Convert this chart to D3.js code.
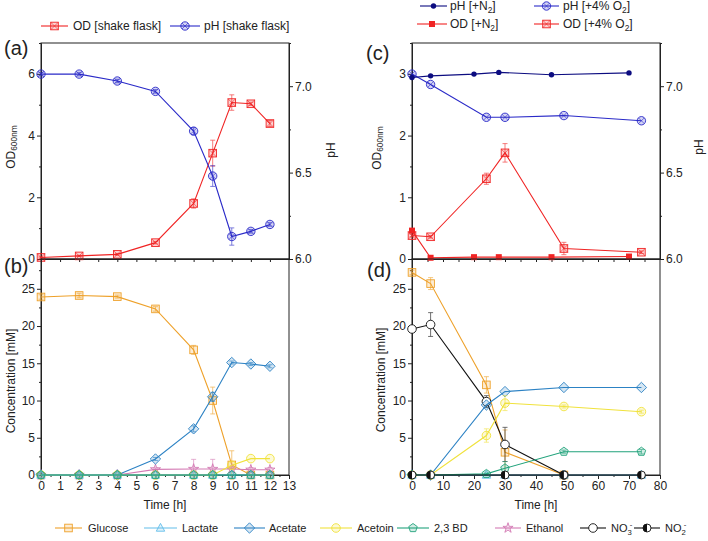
<!DOCTYPE html>
<html>
<head>
<meta charset="utf-8">
<script src="https://cdn.jsdelivr.net/npm/d3@7"></script>
<style>
  body { margin: 0; background: #fff; }
  text { font-family: "Liberation Sans", Arial, sans-serif; fill: #222; }
</style>
</head>
<body>
<svg id="chart" width="708" height="541"></svg>
<script>
// ---- data ----
// (a) shake flask
const timeA = [0, 2, 4, 6, 8, 9, 10, 11, 12];
const odA = [0.05, 0.1, 0.15, 0.53, 1.8, 3.43, 5.07, 5.03, 4.39];
const odAErr = [0.02, 0.02, 0.03, 0.04, 0.15, 0.42, 0.25, 0.05, 0.1];
const phA = [7.07, 7.07, 7.03, 6.97, 6.74, 6.48, 6.13, 6.16, 6.2];
const phAErr = [0.01, 0.01, 0.01, 0.01, 0.02, 0.06, 0.05, 0.01, 0.01];

// (b) metabolites, shake flask
const glucoseB = [23.9, 24.1, 23.95, 22.3, 16.8, 10.0, 1.35, 0, 0];
const glucoseBErr = [0.3, 0.3, 0.2, 0.3, 0.6, 1.8, 1.9, 0, 0];
const lactateB = [0, 0, 0, 0, 0, 0, 0, 0, 0];
const acetateB = [0, 0, 0, 2.15, 6.2, 10.5, 15.1, 14.9, 14.6];
const acetateBErr = [0, 0, 0, 0.2, 0.4, 0.6, 0.2, 0.2, 0.2];
const acetoinB = [0, 0, 0, 0, 0, 0, 1.3, 2.2, 2.2];
const bdB = [0, 0, 0, 0, 0, 0, 0, 0, 0];
const ethanolB = [0, 0, 0, 0.75, 0.8, 0.8, 0.8, 0.7, 0.7];
const ethanolBErr = [0, 0, 0, 0.2, 1.3, 1.3, 0.3, 0.3, 0.3];

// (c) bioreactor
const timeN2 = [0, 6, 20, 28, 45, 70];
const phN2 = [7.05, 7.06, 7.07, 7.08, 7.066, 7.077];
const odN2 = [0.46, 0.02, 0.03, 0.03, 0.03, 0.04];
const timeO2 = [0, 6, 24, 30, 49, 74];
const phO2 = [7.07, 7.01, 6.82, 6.82, 6.83, 6.8];
const odO2 = [0.38, 0.36, 1.3, 1.72, 0.17, 0.11];
const odO2Err = [0.02, 0.02, 0.09, 0.15, 0.1, 0.02];

// (d) metabolites, +4% O2
const timeD = [0, 6, 24, 30, 49, 74];
const glucoseD = [27.2, 25.7, 12.1, 3.05, 0];
const glucoseDErr = [0.3, 0.8, 1.1, 3.0, 0];
const no3D = [19.6, 20.2, 9.85, 4.1, 0];
const no3DErr = [0.3, 1.6, 0.8, 2.3, 0];
const acetateD = [0, 0, 9.4, 11.2, 11.75, 11.75];
const acetoinD = [0, 0, 5.3, 9.65, 9.2, 8.5];
const acetoinDErr = [0, 0, 0.9, 1.0, 0.2, 0.2];
const bdD = [0, 0, 0.15, 0.9, 3.13, 3.13];
const bdDErr = [0, 0, 0.1, 0.9, 0.2, 0.3];
const lactateD = [0, 0, 0, 0, 0, 0];
const timeNO2 = [0, 6, 30, 49, 74];
const no2D = [0, 0, 0, 0, 0];

const svg = d3.select("#chart");
const FONT = "Liberation Sans, Arial, sans-serif";
const FS = 12;

// scales
const xA = d3.scaleLinear().domain([0, 13]).range([41, 289]);
const yODa = d3.scaleLinear().domain([0, 7]).range([259, 43]);
const yPHa = d3.scaleLinear().domain([6, 7.25]).range([259, 43]);
const yB = d3.scaleLinear().domain([0, 29]).range([475, 259]);
const xC = d3.scaleLinear().domain([0, 80]).range([412, 660]);
const yODc = d3.scaleLinear().domain([0, 3.5]).range([259, 43]);
const yPHc = d3.scaleLinear().domain([6, 7.25]).range([259, 43]);
const yD = d3.scaleLinear().domain([0, 29]).range([475, 259]);

// colours
const RED = "#f02424", BLUE = "#2a2ac8", NAVY = "#0c0c80";
const ORANGE = "#eea12a", LBLUE = "#62bdea", ABLUE = "#2c82c4",
  YELLOW = "#f0e23c", GREEN = "#22a37c", PINK = "#d47ab4", BLACK = "#111";

function addAxis(gen, tx, ty, vals, size, labelled, fmt) {
  gen.tickValues(vals).tickSize(size).tickSizeOuter(0).tickPadding(2);
  if (fmt) gen.tickFormat(fmt);
  const g = svg.append("g").attr("transform", `translate(${tx},${ty})`).call(gen);
  if (!labelled) g.selectAll("text").remove();
  g.attr("font-size", FS).attr("font-family", FONT);
  g.selectAll("text").attr("fill", "#222");
  g.select(".domain").attr("stroke", "#222");
  g.selectAll("line").attr("stroke", "#222");
  return g;
}

function frame(x0, y0, x1, y1) {
  svg.append("rect").attr("x", x0).attr("y", y0).attr("width", x1 - x0).attr("height", y1 - y0)
    .attr("fill", "none").attr("stroke", "#222").attr("stroke-width", 1);
}

function marker(parent, shape, cx, cy, c) {
  const g = parent.append("g").attr("transform", `translate(${cx},${cy})`)
    .attr("stroke-width", 0.9);
  const fo = 0.2;
  if (shape === "square") {
    g.append("rect").attr("x", -3.8).attr("y", -3.8).attr("width", 7.6).attr("height", 7.6)
      .attr("fill", c).attr("fill-opacity", fo).attr("stroke", c);
  } else if (shape === "sqx") {
    g.append("rect").attr("x", -3.8).attr("y", -3.8).attr("width", 7.6).attr("height", 7.6)
      .attr("fill", c).attr("fill-opacity", 0.2).attr("stroke", c);
    g.append("path").attr("d", "M-3.8,-3.8L3.8,3.8M3.8,-3.8L-3.8,3.8").attr("stroke", c).attr("stroke-width", 0.6);
  } else if (shape === "circx") {
    g.append("circle").attr("r", 4.2).attr("fill", c).attr("fill-opacity", 0.2).attr("stroke", c);
    g.append("path").attr("d", "M-3,-3L3,3M3,-3L-3,3").attr("stroke", c).attr("stroke-width", 0.6);
  } else if (shape === "dot") {
    g.append("circle").attr("r", 2.7).attr("fill", c).attr("stroke", "none");
  } else if (shape === "fsq") {
    g.append("rect").attr("x", -3).attr("y", -3).attr("width", 6).attr("height", 6).attr("fill", c).attr("stroke", "none");
  } else if (shape === "diamond") {
    g.append("path").attr("d", "M0,-5.2L5.2,0L0,5.2L-5.2,0Z")
      .attr("fill", c).attr("fill-opacity", fo).attr("stroke", c);
  } else if (shape === "triangle") {
    g.append("path").attr("d", "M0,-4.6L4.2,3.2L-4.2,3.2Z")
      .attr("fill", c).attr("fill-opacity", fo).attr("stroke", c);
  } else if (shape === "circle") {
    g.append("circle").attr("r", 4.3).attr("fill", c).attr("fill-opacity", fo).attr("stroke", c);
  } else if (shape === "pentagon") {
    const pts = d3.range(5).map(i => {
      const a = -Math.PI / 2 + i * 2 * Math.PI / 5;
      return [4.5 * Math.cos(a), 4.5 * Math.sin(a)];
    });
    g.append("path").attr("d", "M" + pts.join("L") + "Z")
      .attr("fill", c).attr("fill-opacity", fo).attr("stroke", c);
  } else if (shape === "star") {
    g.append("path").attr("d", d3.symbol(d3.symbolStar, 32)())
      .attr("fill", c).attr("fill-opacity", fo).attr("stroke", c);
  } else if (shape === "ocircle") {
    g.append("circle").attr("r", 4.3).attr("fill", "#fff").attr("stroke", c);
  } else if (shape === "half") {
    g.append("circle").attr("r", 4).attr("fill", "#fff").attr("stroke", c);
    g.append("path").attr("d", "M0,-4A4,4 0 0,0 0,4Z").attr("fill", c);
  }
}

function series(xs, ys, times, vals, errs, color, shape) {
  const pts = vals.map((v, i) => ({ t: times[i], v: v, e: errs ? errs[i] : 0 }));
  svg.append("path").datum(pts)
    .attr("d", d3.line().x(d => xs(d.t)).y(d => ys(d.v)))
    .attr("fill", "none").attr("stroke", color).attr("stroke-width", 1.1);
  const eb = svg.append("g").attr("stroke", color).attr("stroke-width", 0.8).attr("opacity", 0.75);
  pts.filter(d => d.e > 0).forEach(d => {
    const x = xs(d.t), y0 = ys(d.v - d.e), y1 = ys(d.v + d.e);
    eb.append("line").attr("x1", x).attr("x2", x).attr("y1", y0).attr("y2", y1);
    eb.append("line").attr("x1", x - 2.5).attr("x2", x + 2.5).attr("y1", y0).attr("y2", y0);
    eb.append("line").attr("x1", x - 2.5).attr("x2", x + 2.5).attr("y1", y1).attr("y2", y1);
  });
  pts.forEach(d => marker(svg, shape, xs(d.t), ys(d.v), color));
}

function legendItem(x0, x1, tx, y, color, shape, label, fs) {
  svg.append("line").attr("x1", x0).attr("x2", x1).attr("y1", y).attr("y2", y)
    .attr("stroke", color).attr("stroke-width", 1.1);
  marker(svg, shape, (x0 + x1) / 2, y, color);
  const t = svg.append("text").attr("x", tx).attr("y", y + 4.2).attr("font-size", fs || FS);
  label(t);
}

function plain(s) { return t => t.text(s); }
function withSub(pre, sub, post, sup) {
  return t => {
    t.append("tspan").text(pre);
    t.append("tspan").attr("font-size", "0.7em").attr("dy", 3).text(sub);
    if (sup) t.append("tspan").attr("font-size", "0.7em").attr("dy", -8).attr("dx", -2).text(sup);
    if (post) t.append("tspan").attr("dy", sup ? 5 : -3).text(post);
  };
}

function yTitle(x, y, build) {
  const t = svg.append("text").attr("transform", `translate(${x},${y}) rotate(-90)`)
    .attr("text-anchor", "middle").attr("dominant-baseline", "central").attr("font-size", FS);
  build(t);
}

// ---- panel (a) ----
addAxis(d3.axisLeft(yODa), 41, 0, [1, 3, 5, 7], 2, false);
addAxis(d3.axisLeft(yODa), 41, 0, [0, 2, 4, 6], 4, true, d3.format("d"));
addAxis(d3.axisRight(yPHa), 289, 0, [6.25, 6.75, 7.25], 2, false);
addAxis(d3.axisRight(yPHa), 289, 0, [6, 6.5, 7], 4, true, d3.format(".1f"));
addAxis(d3.axisBottom(xA), 0, 259, d3.range(1, 13), 3, false);
frame(41, 43, 289, 259);
series(xA, yODa, timeA, odA, odAErr, RED, "sqx");
series(xA, yPHa, timeA, phA, phAErr, BLUE, "circx");

// ---- panel (b) ----
addAxis(d3.axisLeft(yB), 41, 0, [2.5, 7.5, 12.5, 17.5, 22.5, 27.5], 2, false);
addAxis(d3.axisLeft(yB), 41, 0, [0, 5, 10, 15, 20, 25], 4, true, d3.format("d"));
addAxis(d3.axisBottom(xA), 0, 475, d3.range(0.5, 13, 1), 2, false);
addAxis(d3.axisBottom(xA), 0, 475, d3.range(0, 14), 4, true, d3.format("d"));
frame(41, 259, 289, 475);
series(xA, yB, timeA, glucoseB, glucoseBErr, ORANGE, "square");
series(xA, yB, timeA, ethanolB, ethanolBErr, PINK, "star");
series(xA, yB, timeA, acetateB, acetateBErr, ABLUE, "diamond");
series(xA, yB, timeA, acetoinB, null, YELLOW, "circle");
series(xA, yB, timeA, lactateB, null, LBLUE, "triangle");
series(xA, yB, timeA, bdB, null, GREEN, "pentagon");

// ---- panel (c) ----
addAxis(d3.axisLeft(yODc), 412, 0, [0.5, 1.5, 2.5, 3.5], 2, false);
addAxis(d3.axisLeft(yODc), 412, 0, [0, 1, 2, 3], 4, true, d3.format("d"));
addAxis(d3.axisRight(yPHc), 660, 0, [6.25, 6.75, 7.25], 2, false);
addAxis(d3.axisRight(yPHc), 660, 0, [6, 6.5, 7], 4, true, d3.format(".1f"));
addAxis(d3.axisBottom(xC), 0, 259, d3.range(5, 80, 5), 3, false);
frame(412, 43, 660, 259);
series(xC, yODc, timeO2, odO2, odO2Err, RED, "sqx");
series(xC, yODc, timeN2, odN2, null, RED, "fsq");
series(xC, yPHc, timeO2, phO2, null, BLUE, "circx");
series(xC, yPHc, timeN2, phN2, null, NAVY, "dot");

// ---- panel (d) ----
addAxis(d3.axisLeft(yD), 412, 0, [2.5, 7.5, 12.5, 17.5, 22.5, 27.5], 2, false);
addAxis(d3.axisLeft(yD), 412, 0, [0, 5, 10, 15, 20, 25], 4, true, d3.format("d"));
addAxis(d3.axisBottom(xC), 0, 475, d3.range(5, 80, 10), 2, false);
addAxis(d3.axisBottom(xC), 0, 475, d3.range(0, 81, 10), 4, true, d3.format("d"));
frame(412, 259, 660, 475);
series(xC, yD, timeD, glucoseD, glucoseDErr, ORANGE, "square");
series(xC, yD, timeD, no3D, no3DErr, BLACK, "ocircle");
series(xC, yD, timeD, acetateD, null, ABLUE, "diamond");
series(xC, yD, timeD, acetoinD, acetoinDErr, YELLOW, "circle");
series(xC, yD, timeD, lactateD, null, LBLUE, "triangle");
series(xC, yD, timeD, bdD, bdDErr, GREEN, "pentagon");
series(xC, yD, timeNO2, no2D, null, BLACK, "half");

// ---- titles & labels ----
yTitle(11, 147, withSub("OD", "600nm", ""));
yTitle(331, 150, plain("pH"));
yTitle(11, 381, plain("Concentration [mM]"));
yTitle(377, 148, withSub("OD", "600nm", ""));
yTitle(699, 147, plain("pH"));
yTitle(381, 380, plain("Concentration [mM]"));

svg.append("text").attr("x", 165).attr("y", 509).attr("text-anchor", "middle").attr("font-size", FS).text("Time [h]");
svg.append("text").attr("x", 536).attr("y", 509).attr("text-anchor", "middle").attr("font-size", FS).text("Time [h]");

[["(a)", 4, 55], ["(b)", 4, 273], ["(c)", 366, 60], ["(d)", 367, 277]].forEach(([s, x, y]) =>
  svg.append("text").attr("x", x).attr("y", y).attr("font-size", 20).text(s));

// ---- legends ----
legendItem(41, 68, 73, 26, RED, "sqx", plain("OD [shake flask]"));
legendItem(170, 200, 204, 26, BLUE, "circx", plain("pH [shake flask]"));

legendItem(420, 447, 450, 6, NAVY, "dot", withSub("pH [+N", "2", "]"));
legendItem(534, 559, 563, 6, BLUE, "circx", withSub("pH  [+4% O", "2", "]"));
legendItem(417, 447, 450, 24, RED, "fsq", withSub("OD [+N", "2", "]"));
legendItem(534, 559, 563, 24, RED, "sqx", withSub("OD [+4% O", "2", "]"));

const legY = 528, LFS = 11;
legendItem(55, 82, 88, legY, ORANGE, "square", plain("Glucose"), LFS);
legendItem(144, 177, 182, legY, LBLUE, "triangle", plain("Lactate"), LFS);
legendItem(234, 265, 269, legY, ABLUE, "diamond", plain("Acetate"), LFS);
legendItem(320, 352, 357, legY, YELLOW, "circle", plain("Acetoin"), LFS);
legendItem(397, 429, 434, legY, GREEN, "pentagon", plain("2,3 BD"), LFS);
legendItem(495, 521, 526, legY, PINK, "star", plain("Ethanol"), LFS);
legendItem(580, 606, 611, legY, BLACK, "ocircle", withSub("NO", "3", "", "-"), LFS);
legendItem(634, 660, 665, legY, BLACK, "half", withSub("NO", "2", "", "-"), LFS);
</script>
</body>
</html>
